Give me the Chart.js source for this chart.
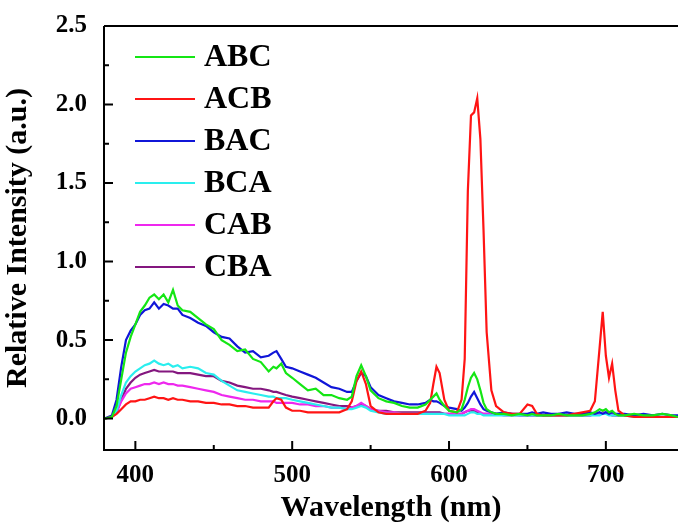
<!DOCTYPE html>
<html lang="en">
<head>
<meta charset="UTF-8">
<title>Relative Intensity</title>
<style>
    html, body { margin: 0; padding: 0; background: #fff; overflow: hidden; }
    #wrap { width: 678px; height: 526px; }
</style>
</head>
<body>
<div id="wrap"><canvas id="Chart" width="678" height="526"></canvas></div>
<script src="https://cdn.jsdelivr.net/npm/chart.js@4.4.1/dist/chart.umd.min.js"></script>
<script>
    // wavelength (nm), shared by every curve
    const wavelength = [
        380, 385, 388, 391, 394, 397, 400, 403, 406, 409,
        412, 415, 418, 421, 424, 427, 430, 435, 440, 445,
        450, 455, 460, 465, 470, 475, 480, 485, 488, 490,
        493, 496, 500, 505, 510, 515, 520, 525, 530, 535,
        538, 541, 544, 547, 550, 555, 560, 565, 570, 575,
        580, 585, 588, 590, 592, 594, 597, 600, 605, 608,
        610, 612, 614, 616, 618, 620, 622, 624, 627, 630,
        635, 640, 645, 650, 653, 656, 660, 665, 670, 675,
        680, 685, 690, 693, 696, 698, 700, 702, 704, 706,
        708, 712, 718, 724, 730, 736, 742, 746
    ];

    const ABC = [
        0.00, 0.01, 0.08, 0.25, 0.42, 0.52, 0.60, 0.68, 0.72, 0.77,
        0.79, 0.76, 0.79, 0.74, 0.82, 0.72, 0.69, 0.68, 0.64, 0.60,
        0.57, 0.50, 0.47, 0.43, 0.44, 0.38, 0.36, 0.30, 0.33, 0.32,
        0.35, 0.29, 0.26, 0.22, 0.18, 0.19, 0.15, 0.15, 0.13, 0.12,
        0.14, 0.27, 0.34, 0.27, 0.18, 0.13, 0.11, 0.10, 0.08, 0.07,
        0.07, 0.09, 0.12, 0.14, 0.16, 0.12, 0.08, 0.05, 0.04, 0.06,
        0.12, 0.20, 0.26, 0.29, 0.25, 0.18, 0.10, 0.06, 0.04, 0.03,
        0.03, 0.02, 0.03, 0.02, 0.03, 0.02, 0.02, 0.02, 0.03, 0.02,
        0.02, 0.02, 0.03, 0.04, 0.06, 0.05, 0.06, 0.04, 0.05, 0.03,
        0.02, 0.02, 0.03, 0.02, 0.02, 0.03, 0.02, 0.01
    ];

    const ACB = [
        0.00, 0.01, 0.03, 0.06, 0.09, 0.11, 0.11, 0.12, 0.12, 0.13,
        0.14, 0.13, 0.13, 0.12, 0.13, 0.12, 0.12, 0.11, 0.11, 0.10,
        0.10, 0.09, 0.09, 0.08, 0.08, 0.07, 0.07, 0.07, 0.11, 0.13,
        0.12, 0.07, 0.05, 0.05, 0.04, 0.04, 0.04, 0.04, 0.04, 0.06,
        0.11, 0.24, 0.30, 0.22, 0.08, 0.04, 0.03, 0.03, 0.03, 0.03,
        0.03, 0.05, 0.10, 0.22, 0.33, 0.29, 0.12, 0.05, 0.04, 0.12,
        0.38, 1.45, 1.93, 1.95, 2.04, 1.78, 1.20, 0.55, 0.18, 0.08,
        0.04, 0.03, 0.03, 0.09, 0.08, 0.03, 0.02, 0.02, 0.02, 0.02,
        0.03, 0.04, 0.05, 0.11, 0.45, 0.68, 0.40, 0.26, 0.35, 0.18,
        0.05, 0.02, 0.01, 0.01, 0.01, 0.01, 0.01, 0.01
    ];

    const BAC = [
        0.00, 0.02, 0.12, 0.33, 0.50, 0.56, 0.60, 0.66, 0.69, 0.70,
        0.74, 0.70, 0.73, 0.72, 0.70, 0.70, 0.66, 0.64, 0.61, 0.59,
        0.55, 0.52, 0.51, 0.46, 0.42, 0.43, 0.39, 0.40, 0.42, 0.43,
        0.38, 0.33, 0.32, 0.30, 0.28, 0.26, 0.23, 0.20, 0.19, 0.17,
        0.17, 0.24, 0.29, 0.27, 0.20, 0.15, 0.13, 0.11, 0.10, 0.09,
        0.09, 0.10, 0.12, 0.11, 0.11, 0.10, 0.08, 0.07, 0.06, 0.05,
        0.07, 0.10, 0.14, 0.17, 0.13, 0.09, 0.06, 0.05, 0.04, 0.03,
        0.04, 0.03, 0.03, 0.03, 0.04, 0.03, 0.04, 0.03, 0.03, 0.04,
        0.03, 0.03, 0.04, 0.03, 0.04, 0.03, 0.04, 0.03, 0.04, 0.03,
        0.03, 0.03, 0.02, 0.03, 0.02, 0.03, 0.02, 0.02
    ];

    const BCA = [
        0.00, 0.01, 0.05, 0.15, 0.23, 0.27, 0.30, 0.32, 0.34, 0.35,
        0.37, 0.35, 0.34, 0.35, 0.33, 0.34, 0.32, 0.33, 0.32, 0.29,
        0.28, 0.24, 0.21, 0.18, 0.17, 0.16, 0.15, 0.14, 0.14, 0.13,
        0.13, 0.13, 0.12, 0.11, 0.10, 0.09, 0.08, 0.07, 0.07, 0.06,
        0.06, 0.07, 0.08, 0.07, 0.05, 0.04, 0.03, 0.03, 0.03, 0.03,
        0.03, 0.03, 0.03, 0.03, 0.03, 0.03, 0.03, 0.02, 0.02, 0.02,
        0.02, 0.03, 0.04, 0.04, 0.03, 0.03, 0.02, 0.02, 0.02, 0.02,
        0.02, 0.02, 0.02, 0.02, 0.02, 0.02, 0.02, 0.02, 0.02, 0.02,
        0.02, 0.02, 0.02, 0.02, 0.02, 0.03, 0.03, 0.02, 0.02, 0.02,
        0.02, 0.02, 0.01, 0.01, 0.01, 0.01, 0.01, 0.01
    ];

    const CAB = [
        0.00, 0.01, 0.04, 0.11, 0.16, 0.19, 0.20, 0.21, 0.22, 0.22,
        0.23, 0.22, 0.23, 0.22, 0.22, 0.21, 0.21, 0.20, 0.19, 0.18,
        0.17, 0.15, 0.14, 0.13, 0.12, 0.12, 0.11, 0.11, 0.11, 0.10,
        0.10, 0.10, 0.10, 0.09, 0.09, 0.08, 0.08, 0.07, 0.07, 0.06,
        0.07, 0.08, 0.10, 0.08, 0.06, 0.05, 0.04, 0.04, 0.03, 0.03,
        0.03, 0.03, 0.03, 0.03, 0.03, 0.03, 0.03, 0.03, 0.03, 0.03,
        0.04, 0.05, 0.06, 0.06, 0.05, 0.04, 0.03, 0.03, 0.03, 0.03,
        0.02, 0.02, 0.02, 0.02, 0.02, 0.02, 0.02, 0.02, 0.02, 0.02,
        0.02, 0.02, 0.02, 0.03, 0.03, 0.04, 0.04, 0.03, 0.03, 0.02,
        0.02, 0.02, 0.02, 0.01, 0.01, 0.01, 0.01, 0.01
    ];

    const CBA = [
        0.00, 0.01, 0.04, 0.12, 0.19, 0.23, 0.26, 0.28, 0.29, 0.30,
        0.31, 0.30, 0.30, 0.30, 0.30, 0.29, 0.29, 0.29, 0.28, 0.27,
        0.27, 0.24, 0.23, 0.21, 0.20, 0.19, 0.19, 0.18, 0.17, 0.17,
        0.16, 0.15, 0.14, 0.13, 0.12, 0.11, 0.10, 0.09, 0.08, 0.08,
        0.07, 0.08, 0.09, 0.08, 0.06, 0.05, 0.05, 0.04, 0.04, 0.04,
        0.04, 0.04, 0.04, 0.04, 0.04, 0.04, 0.03, 0.03, 0.03, 0.03,
        0.04, 0.05, 0.05, 0.05, 0.04, 0.03, 0.03, 0.03, 0.03, 0.03,
        0.03, 0.03, 0.02, 0.02, 0.02, 0.02, 0.02, 0.02, 0.02, 0.02,
        0.02, 0.02, 0.02, 0.03, 0.03, 0.03, 0.03, 0.03, 0.02, 0.02,
        0.02, 0.02, 0.02, 0.02, 0.01, 0.01, 0.01, 0.01
    ];

    const seriesNames = ["ABC", "ACB", "BAC", "BCA", "CAB", "CBA"];
    const seriesValues = [ABC, ACB, BAC, BCA, CAB, CBA];
    const seriesColors = ["#14e614", "#ff1414", "#1016d8", "#2aeeee", "#ee28ee", "#84177f"];

    const xMajor = [400, 500, 600, 700];
    const xMinor = [450, 550, 650];
    const yMajor = [0, 0.5, 1.0, 1.5, 2.0, 2.5];
    const yMinor = [0.25, 0.75, 1.25, 1.75, 2.25];

    const FONT = "'Liberation Serif', 'Times New Roman', serif";

    const datasets = seriesNames.map((name, i) => ({
        label: name,
        data: wavelength.map((w, j) => ({ x: w, y: seriesValues[i][j] })),
        borderColor: seriesColors[i],
        backgroundColor: seriesColors[i],
        borderWidth: 2.2,
        pointRadius: 0,
        tension: 0,
        fill: false
    }));

    // frame, inward ticks and the legend inside the plot
    const framePlugin = {
        id: "frame",
        afterDraw(chart) {
            const ctx = chart.ctx;
            const a = chart.chartArea;
            const xs = chart.scales.x;
            const ys = chart.scales.y;
            ctx.save();
            ctx.strokeStyle = "#000";
            ctx.lineWidth = 2;
            ctx.beginPath();
            ctx.moveTo(a.left, a.top);
            ctx.lineTo(a.right, a.top);
            ctx.moveTo(a.left, a.top);
            ctx.lineTo(a.left, a.bottom);
            ctx.lineTo(a.right, a.bottom);
            xMajor.forEach(v => {
                const px = xs.getPixelForValue(v);
                ctx.moveTo(px, a.bottom);
                ctx.lineTo(px, a.bottom - 9);
            });
            xMinor.forEach(v => {
                const px = xs.getPixelForValue(v);
                ctx.moveTo(px, a.bottom);
                ctx.lineTo(px, a.bottom - 5);
            });
            yMajor.forEach(v => {
                const py = ys.getPixelForValue(v);
                ctx.moveTo(a.left, py);
                ctx.lineTo(a.left + 9, py);
            });
            yMinor.forEach(v => {
                const py = ys.getPixelForValue(v);
                ctx.moveTo(a.left, py);
                ctx.lineTo(a.left + 5, py);
            });
            ctx.stroke();

            // legend
            ctx.font = "bold 32px " + FONT;
            ctx.textBaseline = "middle";
            ctx.textAlign = "left";
            chart.data.datasets.forEach((ds, i) => {
                const y = 57 + i * 42;
                ctx.strokeStyle = ds.borderColor;
                ctx.lineWidth = 2;
                ctx.beginPath();
                ctx.moveTo(135, y);
                ctx.lineTo(195, y);
                ctx.stroke();
                ctx.fillStyle = "#000";
                ctx.fillText(ds.label, 204, y + 1);
            });
            ctx.restore();
        }
    };

    const ctx = document.getElementById("Chart").getContext("2d");
    const chart = new Chart(ctx, {
        type: "line",
        data: { datasets: datasets },
        options: {
            responsive: false,
            animation: false,
            layout: { padding: { top: 26, right: 0, bottom: 0, left: 0 } },
            plugins: { legend: { display: false }, tooltip: { enabled: false } },
            scales: {
                x: {
                    type: "linear",
                    min: 380,
                    max: 746,
                    grid: { display: false },
                    border: { display: false },
                    afterFit: s => { s.height = 76; },
                    afterBuildTicks: s => { s.ticks = xMajor.map(v => ({ value: v })); },
                    ticks: {
                        autoSkip: false,
                        maxRotation: 0,
                        padding: 3,
                        color: "#000",
                        font: { family: FONT, size: 25, weight: "bold" },
                        callback: v => String(v)
                    },
                    title: {
                        display: true,
                        text: "Wavelength (nm)",
                        color: "#000",
                        padding: { top: 0, bottom: 0 },
                        font: { family: FONT, size: 30, weight: "bold" }
                    }
                },
                y: {
                    min: -0.2,
                    max: 2.5,
                    grid: { display: false },
                    border: { display: false },
                    afterFit: s => { s.width = 104; },
                    afterBuildTicks: s => { s.ticks = yMajor.map(v => ({ value: v })); },
                    ticks: {
                        padding: 9,
                        color: "#000",
                        font: { family: FONT, size: 25, weight: "bold" },
                        callback: v => Number(v).toFixed(1)
                    },
                    title: {
                        display: true,
                        text: "Relative Intensity (a.u.)",
                        color: "#000",
                        padding: { top: 0, bottom: 4 },
                        font: { family: FONT, size: 30, weight: "bold" }
                    }
                }
            }
        },
        plugins: [framePlugin]
    });
</script>
</body>
</html>
